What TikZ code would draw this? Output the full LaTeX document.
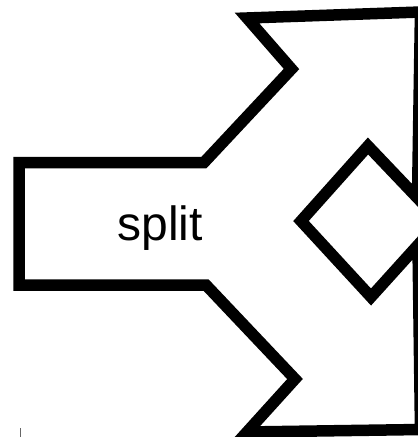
\documentclass[tikz,border=0pt]{standalone}
\usepackage{fontspec}
\setmainfont{Liberation Sans}
\begin{document}
\begin{tikzpicture}[x=1pt,y=-1pt,
  outline/.style={draw=black,line width=11.5pt,line join=miter,miter limit=20,fill=white},
  labeltext/.style={font=\fontsize{48}{52}\selectfont,inner sep=0pt,anchor=base},
  tick/.style={draw=black!60,line width=1pt}]
\useasboundingbox (0,0) rectangle (418,437);
\fill[white] (0,0) rectangle (418,437);
\begin{scope}
\clip (0,0) rectangle (418,437);
\coordinate (p1) at (19,162.5);
\coordinate (p2) at (204,162.5);
\coordinate (p3) at (291.5,69);
\coordinate (p4) at (247,18);
\coordinate (p5) at (420.5,12);
\coordinate (p6) at (417.5,198);
\coordinate (p7) at (368,146);
\coordinate (p8) at (301,221);
\coordinate (p9) at (371,297);
\coordinate (p10) at (418,245);
\coordinate (p11) at (420.5,429.5);
\coordinate (p12) at (247,432);
\coordinate (p13) at (295,379);
\coordinate (p14) at (206,285);
\coordinate (p15) at (19,285);
\draw[outline] (p1) -- (p2) -- (p3) -- (p4) -- (p5) -- (p6) -- (p7) -- (p8) -- (p9) -- (p10) -- (p11) -- (p12) -- (p13) -- (p14) -- (p15) -- cycle;
\end{scope}
\node[labeltext] (label) at (160,240) {split};
\coordinate (t1) at (20,428);
\coordinate (t2) at (20,437);
\draw[tick] (t1) -- (t2);
\end{tikzpicture}
\end{document}
